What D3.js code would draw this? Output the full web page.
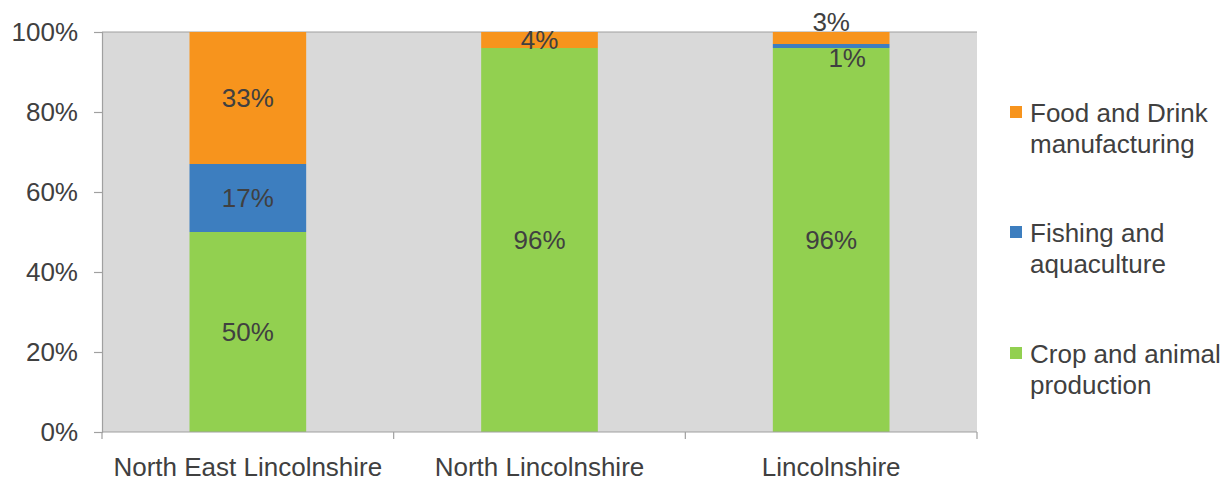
<!DOCTYPE html>
<html>
<head>
<meta charset="utf-8">
<script src="https://cdn.jsdelivr.net/npm/d3@7"></script>
<style>
  html, body { margin: 0; padding: 0; background: #ffffff; }
  svg { display: block; font-family: "Liberation Sans", Arial, sans-serif; }
</style>
</head>
<body>
<svg id="chart" width="1227" height="481"></svg>
<script>
// Share of agri-food employment by area (stacked to 100%)
const categories = ["North East Lincolnshire", "North Lincolnshire", "Lincolnshire"];
const crop = [50, 96, 96];
const fishing = [17, 0, 1];
const food = [33, 4, 3];
const seriesNames = ["Crop and animal production", "Fishing and aquaculture", "Food and Drink manufacturing"];
const yTicks = [0, 20, 40, 60, 80, 100];

const colors = {
  "Crop and animal production": "#92d050",
  "Fishing and aquaculture": "#3d7ebf",
  "Food and Drink manufacturing": "#f7941d"
};

const svg = d3.select("#chart");
const plot = { left: 102, top: 32, right: 977, bottom: 432 };
const textColor = "#404040";
const axisColor = "#a0a0a0";
const fontSize = "26px";

const x = d3.scaleBand().domain(categories).range([plot.left, plot.right]).padding(0);
const y = d3.scaleLinear().domain([0, 100]).range([plot.bottom, plot.top]);
const barW = x.bandwidth() * 0.4;

// plot background
svg.append("rect")
  .attr("x", plot.left).attr("y", plot.top)
  .attr("width", plot.right - plot.left).attr("height", plot.bottom - plot.top)
  .attr("fill", "#d9d9d9");

// top border line
svg.append("line")
  .attr("x1", plot.left).attr("x2", plot.right)
  .attr("y1", y(100)).attr("y2", y(100))
  .attr("stroke", axisColor).attr("stroke-width", 1.2);

// stacked data
const rows = categories.map((c, i) => ({
  category: c,
  "Crop and animal production": crop[i],
  "Fishing and aquaculture": fishing[i],
  "Food and Drink manufacturing": food[i]
}));
const stacked = d3.stack().keys(seriesNames)(rows);

const layers = svg.append("g").selectAll("g")
  .data(stacked).join("g")
  .attr("fill", d => colors[d.key]);

layers.selectAll("rect")
  .data(d => d.map(v => ({ key: d.key, v })))
  .join("rect")
  .attr("x", d => x(d.v.data.category) + (x.bandwidth() - barW) / 2)
  .attr("width", barW)
  .attr("y", d => y(d.v[1]))
  .attr("height", d => y(d.v[0]) - y(d.v[1]));

// y axis
const yAxis = d3.axisLeft(y).tickValues(yTicks).tickFormat(d => d + "%").tickSize(8).tickPadding(16);
const gy = svg.append("g").attr("transform", `translate(${plot.left},0)`).call(yAxis);
gy.select(".domain").attr("stroke", axisColor).attr("stroke-width", 1.2);
gy.selectAll(".tick line").attr("stroke", axisColor).attr("stroke-width", 1.2);
gy.selectAll(".tick text").attr("fill", textColor).style("font-size", fontSize)
  .attr("font-family", "Liberation Sans, Arial, sans-serif");

// x axis: line with tick marks at category boundaries
svg.append("line")
  .attr("x1", plot.left).attr("x2", plot.right)
  .attr("y1", plot.bottom).attr("y2", plot.bottom)
  .attr("stroke", axisColor).attr("stroke-width", 1.2);
const bounds = categories.map(c => x(c)).concat([plot.right]);
svg.append("g").selectAll("line").data(bounds).join("line")
  .attr("x1", d => d).attr("x2", d => d)
  .attr("y1", plot.bottom).attr("y2", plot.bottom + 7)
  .attr("stroke", axisColor).attr("stroke-width", 1.2);
svg.append("g").selectAll("text").data(categories).join("text")
  .attr("x", d => x(d) + x.bandwidth() / 2)
  .attr("y", 476)
  .attr("text-anchor", "middle")
  .attr("fill", textColor)
  .style("font-size", fontSize)
  .text(d => d);

// data labels (small segments are nudged clear of the bar top)
const nudge = {
  "Lincolnshire|Food and Drink manufacturing": { dx: 0, dy: -16 },
  "Lincolnshire|Fishing and aquaculture": { dx: 16, dy: 12 }
};
const labels = [];
stacked.forEach(layer => {
  layer.forEach(v => {
    const val = v[1] - v[0];
    if (val <= 0) return;
    const n = nudge[v.data.category + "|" + layer.key] || { dx: 0, dy: 0 };
    labels.push({
      x: x(v.data.category) + x.bandwidth() / 2 + n.dx,
      y: (y(v[0]) + y(v[1])) / 2 + n.dy,
      text: Math.round(val) + "%"
    });
  });
});
svg.append("g").selectAll("text").data(labels).join("text")
  .attr("x", d => d.x)
  .attr("y", d => d.y)
  .attr("dy", "0.36em")
  .attr("text-anchor", "middle")
  .attr("fill", textColor)
  .style("font-size", fontSize)
  .text(d => d.text);

// legend
const legendItems = [
  { key: "Food and Drink manufacturing", lines: ["Food and Drink", "manufacturing"], top: 106 },
  { key: "Fishing and aquaculture", lines: ["Fishing and", "aquaculture"], top: 226 },
  { key: "Crop and animal production", lines: ["Crop and animal", "production"], top: 347 }
];
const lg = svg.append("g").selectAll("g").data(legendItems).join("g");
lg.append("rect")
  .attr("x", 1010).attr("y", d => d.top)
  .attr("width", 12).attr("height", 12)
  .attr("fill", d => colors[d.key]);
lg.each(function(d) {
  d3.select(this).selectAll("text").data(d.lines).join("text")
    .attr("x", 1030)
    .attr("y", (t, i) => d.top + 16 + i * 31)
    .attr("fill", textColor)
    .style("font-size", fontSize)
    .text(t => t);
});
</script>
</body>
</html>
